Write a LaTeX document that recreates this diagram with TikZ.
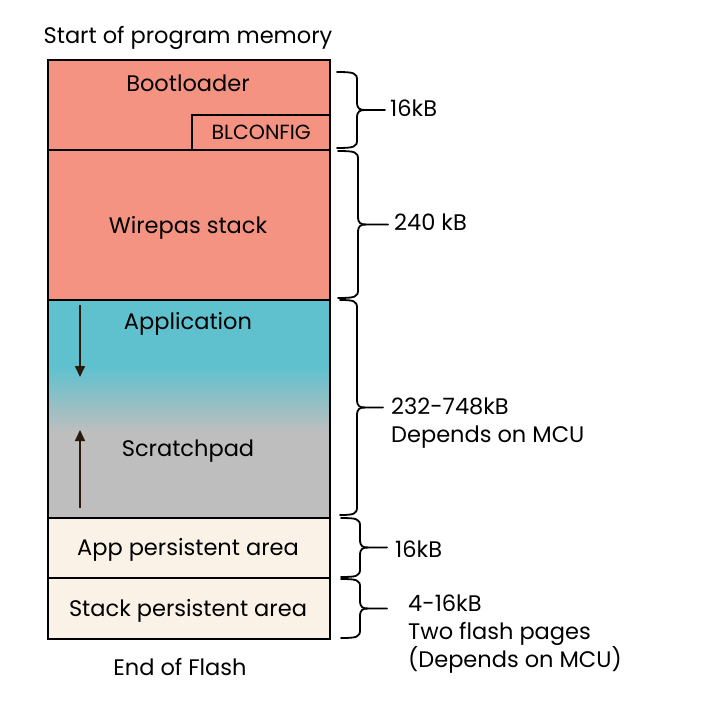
\documentclass[tikz,border=0pt]{standalone}
\usepackage{fontspec}
\setmainfont{Poppins}
\usetikzlibrary{arrows.meta}
\definecolor{salmon}{HTML}{F49381}
\definecolor{teal}{HTML}{5FC1CE}
\definecolor{grayz}{HTML}{BEBEBE}
\definecolor{cream}{HTML}{FAF1E7}
\definecolor{arrowc}{HTML}{2A1A0C}
\newcommand\fbrace[5]{% x0, xspine, ytop, ybot, xend
  \pgfmathsetmacro\ym{(#3+#4)/2}%
  \draw[bracestyle] (#1,#3) .. controls (#2-3,#3) and (#2,#3+1) .. (#2,#3+8)
    -- (#2,\ym-8) .. controls (#2,\ym-1) and (#2+3,\ym) .. (#2+8,\ym) -- (#5,\ym);
  \draw[bracestyle] (#1,#4) .. controls (#2-3,#4) and (#2,#4-1) .. (#2,#4-8)
    -- (#2,\ym+8) .. controls (#2,\ym+1) and (#2+3,\ym) .. (#2+8,\ym);
}
\tikzset{
  block/.style={draw=black, line width=2.4pt, anchor=north west, inner sep=0pt, minimum width=282pt},
  txt/.style={font=\fontsize{22.5}{28}\selectfont, inner sep=0pt, yshift=-2pt},
  sizelbl/.style={font=\fontsize{22.5}{28}\selectfont, inner sep=0pt, anchor=west, align=left, yshift=-2pt},
  bracestyle/.style={line width=1.8pt, line cap=round},
  flow/.style={draw=arrowc, line width=1.6pt, -{Triangle[length=11pt,width=10pt]}}
}
\begin{document}
\begin{tikzpicture}[x=1pt,y=-1pt]
\useasboundingbox (0,0) rectangle (717,712);
% fills of the application / scratchpad region
\fill[teal] (47,299) rectangle (329,368);
\shade[top color=teal, bottom color=grayz] (47,367) rectangle (329,432);
\fill[grayz] (47,431) rectangle (329,517);
% blocks
\node[block, fill=salmon, minimum height=90pt] (boot) at (47,59) {};
\node[block, fill=salmon, minimum height=150pt] (stack) at (47,149) {};
\node[block, minimum height=218pt] (app) at (47,299) {};
\node[block, fill=cream, minimum height=60pt] (apppers) at (47,517) {};
\node[block, fill=cream, minimum height=61pt] (stackpers) at (47,577) {};
\node[draw=black, line width=2.4pt, fill=salmon, anchor=south east, minimum width=138pt, minimum height=35pt, inner sep=0pt,
  font=\fontsize{20.5}{24}\selectfont] (blc) at (boot.south east) {BLCONFIG};
% texts
\node[txt] (tstart) at (188,36) {Start of program memory};
\node[txt] (tboot) at (188,81) {Bootloader};
\node[txt] (twire) at (188,226) {Wirepas stack};
\node[txt] (tapp) at (188,322) {Application};
\node[txt] (tscr) at (188,449) {Scratchpad};
\node[txt] (tapers) at (188,548) {App persistent area};
\node[txt] (tspers) at (188,609) {Stack persistent area};
\node[txt] (tend) at (180,665) {End of Flash};
% arrows
\coordinate (d1) at (80,305);
\coordinate (d2) at (80,377);
\coordinate (u1) at (80,508);
\coordinate (u2) at (80,430);
\draw[flow] (d1) -- (d2);
\draw[flow] (u1) -- (u2);
% braces
\fbrace{337}{357}{72}{148}{385}
\fbrace{338}{358}{151}{298}{388}
\fbrace{340}{357}{300}{515}{383}
\fbrace{341}{360}{518}{577}{387}
\fbrace{341}{360}{579}{638}{387}
% size labels
\node[sizelbl] (s1) at (390,106) {16kB};
\node[sizelbl] (s2) at (394,220) {240 kB};
\node[sizelbl] (s3) at (391,421) {232-748kB\\Depends on MCU};
\node[sizelbl] (s4) at (395,547) {16kB};
\node[sizelbl] (s5) at (408,632) {4-16kB\\Two flash pages\\(Depends on MCU)};
\end{tikzpicture}
\end{document}
